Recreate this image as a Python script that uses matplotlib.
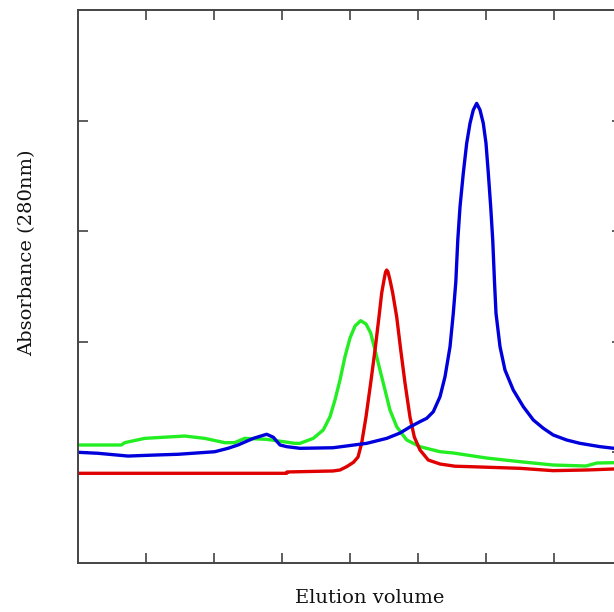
import matplotlib
matplotlib.use("Agg")
import matplotlib.pyplot as plt

# Red trace
red_x = [0, 3.069, 3.074, 3.75, 3.853, 3.951, 4.05, 4.118, 4.172, 4.235, 4.304, 4.368, 4.426,
         4.466, 4.50, 4.523, 4.540, 4.559, 4.588, 4.628, 4.687, 4.746, 4.809, 4.882, 4.946,
         5.029, 5.151, 5.324, 5.544, 5.765, 6.5, 6.985, 7.48, 7.88, 8.0]
red_y = [0.811, 0.811, 0.823, 0.832, 0.841, 0.871, 0.91, 0.958, 1.085, 1.320, 1.627, 1.926, 2.224,
         2.441, 2.559, 2.631, 2.649, 2.631, 2.559, 2.441, 2.224, 1.926, 1.627, 1.320, 1.139,
         1.022, 0.931, 0.895, 0.875, 0.871, 0.856, 0.835, 0.841, 0.850, 0.850]

# Blue trace
blue_x = [0, 0.294, 0.735, 1.128, 1.471, 2.010, 2.206, 2.353, 2.578, 2.775, 2.872, 2.971, 3.069,
          3.265, 3.75, 4.246, 4.54, 4.735, 4.882, 5.029, 5.128, 5.225, 5.324, 5.397, 5.471,
          5.519, 5.556, 5.585, 5.618, 5.666, 5.716, 5.765, 5.813, 5.863, 5.912, 5.960, 6.0,
          6.034, 6.069, 6.099, 6.125, 6.147, 6.206, 6.279, 6.401, 6.549, 6.696, 6.843, 6.990,
          7.187, 7.382, 7.676, 7.882, 8.0]
blue_y = [1.001, 0.992, 0.967, 0.976, 0.983, 1.006, 1.037, 1.067, 1.127, 1.164, 1.137, 1.067, 1.052,
          1.037, 1.042, 1.082, 1.127, 1.175, 1.230, 1.278, 1.308, 1.368, 1.504, 1.684, 1.956,
          2.258, 2.541, 2.920, 3.222, 3.524, 3.795, 3.976, 4.096, 4.156, 4.096, 3.976, 3.795,
          3.524, 3.222, 2.920, 2.541, 2.258, 1.956, 1.745, 1.564, 1.413, 1.293, 1.218, 1.157,
          1.112, 1.082, 1.052, 1.037, 1.033]

# Green trace
green_x = [0, 0.637, 0.687, 0.981, 1.569, 1.863, 2.157, 2.304, 2.451, 2.775, 3.019, 3.187, 3.265,
           3.46, 3.607, 3.706, 3.779, 3.853, 3.926, 4.0, 4.074, 4.157, 4.235, 4.304, 4.368,
           4.441, 4.515, 4.588, 4.687, 4.834, 5.029, 5.324, 5.515, 6.010, 6.5, 6.985, 7.47,
           7.63, 7.88, 8.0]
green_y = [1.067, 1.067, 1.088, 1.127, 1.148, 1.127, 1.088, 1.088, 1.127, 1.118, 1.097, 1.082, 1.082,
           1.127, 1.203, 1.323, 1.474, 1.655, 1.865, 2.034, 2.143, 2.191, 2.161, 2.080, 1.926,
           1.745, 1.564, 1.383, 1.232, 1.112, 1.052, 1.006, 0.995, 0.949, 0.916, 0.886, 0.877,
           0.904, 0.907, 0.907]

x_ticks = [1, 2, 3, 4, 5, 6, 7]
y_ticks = [1, 2, 3, 4]

fig = plt.figure(figsize=(6.14, 6.12), dpi=100)
ax = fig.add_axes([78/614, 49/612, 544/614, 553/612])

lw = 2.4
ax.plot(green_x, green_y, color="#22ee22", lw=lw, solid_joinstyle="round")
ax.plot(red_x, red_y, color="#e00000", lw=lw, solid_joinstyle="round")
ax.plot(blue_x, blue_y, color="#0000dd", lw=lw, solid_joinstyle="round")

ax.set_xlim(0, 8)
ax.set_ylim(0, 5)
ax.set_xticks(x_ticks)
ax.set_yticks(y_ticks)
ax.tick_params(direction="in", length=7.2, width=1.1, color="#333333",
               top=True, right=True, labelbottom=False, labelleft=False)
for s in ax.spines.values():
    s.set_linewidth(1.4)
    s.set_color("#444444")

fig.text(370/614, 1 - 598/612, "Elution volume", ha="center", va="center",
         fontsize=14, family="DejaVu Serif", color="#111111")
fig.text(27/614, 1 - 253/612, "Absorbance (280nm)", ha="center", va="center",
         rotation=90, fontsize=14, family="DejaVu Serif", color="#111111")

fig.savefig("out.png", dpi=100)
